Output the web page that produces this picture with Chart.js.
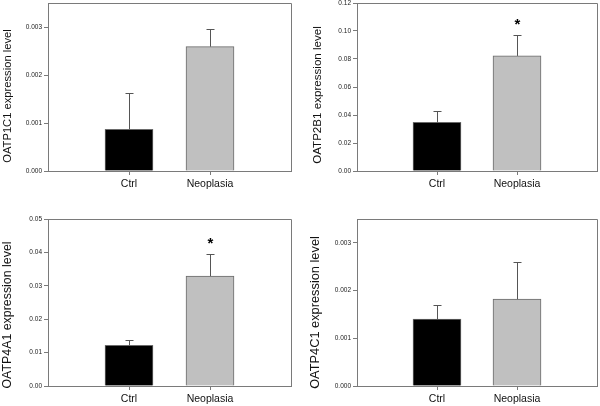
<!DOCTYPE html>
<html>
<head>
<meta charset="utf-8">
<script src="https://cdn.jsdelivr.net/npm/chart.js@4/dist/chart.umd.min.js"></script>
<style>
  html, body { margin: 0; padding: 0; background: #fff; }
  body { width: 600px; height: 406px; position: relative; overflow: hidden; }
  canvas { position: absolute; }
</style>
</head>
<body>
<canvas id="c1" width="300" height="203" style="left:0;top:0"></canvas>
<canvas id="c2" width="300" height="203" style="left:300px;top:0"></canvas>
<canvas id="c3" width="300" height="203" style="left:0;top:203px"></canvas>
<canvas id="c4" width="300" height="203" style="left:300px;top:203px"></canvas>
<script>
// ---- data ----
const categories = ['Ctrl', 'Neoplasia'];

const oatp1c1Mean = [0.00087, 0.00259];
const oatp1c1Err  = [0.00075, 0.00036];
const oatp1c1Sig  = [false, false];
const oatp1c1Ticks = [0, 0.001, 0.002, 0.003];

const oatp2b1Mean = [0.0347, 0.0822];
const oatp2b1Err  = [0.0081, 0.0151];
const oatp2b1Sig  = [false, true];
const oatp2b1Ticks = [0, 0.02, 0.04, 0.06, 0.08, 0.10, 0.12];

const oatp4a1Mean = [0.0122, 0.0329];
const oatp4a1Err  = [0.0016, 0.0067];
const oatp4a1Sig  = [false, true];
const oatp4a1Ticks = [0, 0.01, 0.02, 0.03, 0.04, 0.05];

const oatp4c1Mean = [0.00140, 0.00182];
const oatp4c1Err  = [0.00030, 0.00078];
const oatp4c1Sig  = [false, false];
const oatp4c1Ticks = [0, 0.001, 0.002, 0.003];

// ---- styling ----
const FONT = "'Liberation Sans', Arial, sans-serif";
const AXIS = '#7a7a7a';
const BAR_COLORS = ['#000000', '#c0c0c0'];

const framePlugin = {
  id: 'frame',
  afterDatasetsDraw(chart, args, opts) {
    const ctx = chart.ctx;
    const a = chart.chartArea;
    const x = chart.scales.x, y = chart.scales.y;
    ctx.save();
    // error bars + significance
    ctx.strokeStyle = '#555';
    ctx.lineWidth = 1;
    opts.mean.forEach((m, i) => {
      const px = Math.round(x.getPixelForValue(i + 1)) + 0.5;
      const yb = y.getPixelForValue(m);
      const yt = Math.round(y.getPixelForValue(m + opts.err[i])) + 0.5;
      ctx.beginPath();
      ctx.moveTo(px, yb);
      ctx.lineTo(px, yt);
      ctx.moveTo(px - 4, yt);
      ctx.lineTo(px + 4, yt);
      ctx.stroke();
      if (opts.sig[i]) {
        ctx.fillStyle = '#000';
        ctx.font = 'bold 15px ' + FONT;
        ctx.textAlign = 'center';
        ctx.textBaseline = 'alphabetic';
        ctx.fillText('*', px, yt - 12 + 5);
      }
    });
    // top/right frame
    ctx.strokeStyle = AXIS;
    ctx.beginPath();
    const l = Math.round(a.left) + 0.5, r = Math.round(a.right) + 0.5;
    const t = Math.round(a.top) + 0.5, b = Math.round(a.bottom) + 0.5;
    ctx.moveTo(l, t); ctx.lineTo(r, t); ctx.lineTo(r, b);
    ctx.stroke();
    // y title
    ctx.fillStyle = '#111';
    ctx.font = opts.titleSize + 'px ' + FONT;
    ctx.textAlign = 'center';
    ctx.textBaseline = 'middle';
    ctx.translate(opts.titleX, opts.titleY);
    ctx.rotate(-Math.PI / 2);
    ctx.fillText(opts.title, 0, 0);
    ctx.restore();
  }
};

function makePanel(id, cfg) {
  const W = 300, H = 203;
  const labels = [''].concat(categories).concat(['']);
  new Chart(document.getElementById(id), {
    type: 'bar',
    data: {
      labels: labels,
      datasets: [{
        data: [null].concat(cfg.mean).concat([null]),
        backgroundColor: ['#fff'].concat(BAR_COLORS).concat(['#fff']),
        borderColor: '#6a6a6a',
        borderWidth: 1,
        barThickness: 48
      }]
    },
    options: {
      responsive: false,
      animation: false,
      events: [],
      layout: { padding: { left: 0, top: cfg.top, right: W - cfg.right, bottom: 0 } },
      plugins: {
        legend: { display: false },
        tooltip: { enabled: false },
        frame: {
          mean: cfg.mean, err: cfg.err, sig: cfg.sig,
          title: cfg.title, titleX: cfg.titleX, titleY: cfg.titleY, titleSize: cfg.titleSize
        }
      },
      scales: {
        x: {
          type: 'category',
          offset: false,
          grid: {
            display: true, offset: false, drawOnChartArea: false, drawTicks: true, tickLength: 4,
            tickColor: (c) => (c.index === 1 || c.index === 2) ? AXIS : 'rgba(0,0,0,0)'
          },
          border: { color: AXIS, width: 1 },
          ticks: { color: '#111', font: { family: FONT, size: 10.5 }, padding: 3, maxRotation: 0, autoSkip: false },
          afterFit: (s) => { s.height = H - cfg.bottom; s.paddingLeft = 0; s.paddingRight = 0; }
        },
        y: {
          min: 0,
          max: cfg.max,
          grid: { display: true, drawOnChartArea: false, drawTicks: true, tickLength: 4, tickColor: AXIS },
          border: { color: AXIS, width: 1 },
          afterBuildTicks: (s) => { s.ticks = cfg.ticks.map(v => ({ value: v })); },
          ticks: {
            color: '#222', font: { family: FONT, size: 6.5 }, padding: 2,
            callback: (v) => Number(v).toFixed(cfg.dec)
          },
          afterFit: (s) => { s.width = cfg.left; s.paddingTop = 0; s.paddingBottom = 0; }
        }
      }
    },
    plugins: [framePlugin]
  });
}

makePanel('c1', { mean: oatp1c1Mean, err: oatp1c1Err, sig: oatp1c1Sig, ticks: oatp1c1Ticks, max: 0.0035, dec: 3,
  left: 48, right: 291, top: 3, bottom: 171,
  title: 'OATP1C1 expression level', titleX: 8, titleY: 96, titleSize: 11.2 });
makePanel('c2', { mean: oatp2b1Mean, err: oatp2b1Err, sig: oatp2b1Sig, ticks: oatp2b1Ticks, max: 0.12, dec: 2,
  left: 57, right: 297, top: 3, bottom: 171,
  title: 'OATP2B1 expression level', titleX: 17.5, titleY: 95, titleSize: 11.6 });
makePanel('c3', { mean: oatp4a1Mean, err: oatp4a1Err, sig: oatp4a1Sig, ticks: oatp4a1Ticks, max: 0.05, dec: 2,
  left: 48, right: 291, top: 16, bottom: 183,
  title: 'OATP4A1 expression level', titleX: 8, titleY: 112, titleSize: 12.4 });
makePanel('c4', { mean: oatp4c1Mean, err: oatp4c1Err, sig: oatp4c1Sig, ticks: oatp4c1Ticks, max: 0.0035, dec: 3,
  left: 57, right: 297, top: 16, bottom: 183,
  title: 'OATP4C1 expression level', titleX: 15, titleY: 109.5, titleSize: 12.8 });
</script>
</body>
</html>
